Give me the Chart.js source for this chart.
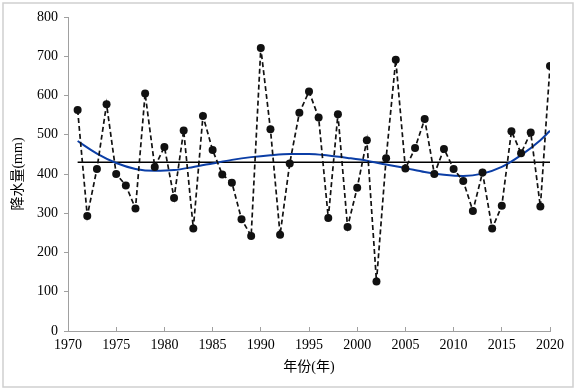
<!DOCTYPE html>
<html>
<head>
<meta charset="utf-8">
<script src="https://cdn.jsdelivr.net/npm/chart.js@4.4.1/dist/chart.umd.min.js"></script>
<style>
	html, body { margin: 0; padding: 0; background: #fff; }
	#wrap { width: 578px; height: 391px; }
</style>
</head>
<body>
<div id="wrap"><canvas id="c" width="578" height="391"></canvas></div>
<script>
// annual precipitation 1971-2020
var years = [
	1971, 1972, 1973, 1974, 1975, 1976, 1977, 1978, 1979, 1980,
	1981, 1982, 1983, 1984, 1985, 1986, 1987, 1988, 1989, 1990,
	1991, 1992, 1993, 1994, 1995, 1996, 1997, 1998, 1999, 2000,
	2001, 2002, 2003, 2004, 2005, 2006, 2007, 2008, 2009, 2010,
	2011, 2012, 2013, 2014, 2015, 2016, 2017, 2018, 2019, 2020
];
var precip = [
	563, 293, 413, 578, 400, 371, 312, 605, 418, 469,
	339, 511, 261, 548, 461, 399, 378, 285, 242, 721,
	514, 245, 427, 556, 610, 544, 288, 552, 265, 365,
	486, 126, 440, 691, 414, 466, 540, 400, 464, 413,
	382, 306, 404, 261, 319, 509, 453, 506, 317, 675
];
// multi-year mean (horizontal line)
var meanYears = [1971, 2020];
var meanValue = 430;
// polynomial trend curve, sampled from the figure
var trendYears = [1971, 1973, 1975, 1977, 1979, 1981, 1983, 1985, 1987, 1989, 1991, 1993, 1995,
	1997, 1999, 2001, 2003, 2005, 2007, 2009, 2011, 2013, 2015, 2017, 2019, 2020];
var trendValues = [484, 452, 428, 413, 408, 410, 418, 427, 436, 443, 448, 451, 451,
	447, 441, 434, 424, 415, 405, 398, 395, 401, 418, 448, 486, 510];
var yTicks = [0, 100, 200, 300, 400, 500, 600, 700, 800];

function pts( xs, ys ) {
	return xs.map( function ( x, i ) { return { x: x, y: ys[ i ] }; } );
}

var tickFont = { family: '"Liberation Serif", "Times New Roman", serif', size: 14 };
var titleFont = { family: '"Liberation Serif", "Noto Sans CJK SC", serif', size: 14 };
var axisGrey = '#a0a0a0';

// light grey frame around the whole figure
var frame = {
	id: 'frame',
	beforeDraw: function ( chart ) {
		var ctx = chart.ctx;
		ctx.save();
		ctx.fillStyle = '#fff';
		ctx.fillRect( 0, 0, chart.width, chart.height );
		ctx.strokeStyle = '#cfcfcf';
		ctx.lineWidth = 1.5;
		ctx.strokeRect( 3, 3, 570, 384 );
		ctx.restore();
	}
};

new Chart( document.getElementById( 'c' ), {
	type: 'line',
	data: {
		datasets: [ {
			label: '降水量',
			data: pts( years, precip ),
			borderColor: '#111',
			borderWidth: 1.7,
			borderDash: [ 5, 3 ],
			pointRadius: 4,
			pointBackgroundColor: '#111',
			pointBorderColor: '#111',
			pointBorderWidth: 0,
			tension: 0,
			order: 1
		}, {
			label: '平均值',
			data: pts( meanYears, [ meanValue, meanValue ] ),
			borderColor: '#000',
			borderWidth: 1.5,
			pointRadius: 0,
			order: 3
		}, {
			label: '趋势',
			data: pts( trendYears, trendValues ),
			borderColor: '#0b3ea6',
			borderWidth: 2,
			pointRadius: 0,
			cubicInterpolationMode: 'monotone',
			order: 2
		} ]
	},
	options: {
		responsive: false,
		animation: false,
		layout: { padding: { top: 17, right: 28, bottom: 0, left: 0 } },
		plugins: {
			legend: { display: false },
			tooltip: { enabled: false }
		},
		scales: {
			x: {
				type: 'linear',
				min: 1970,
				max: 2020,
				afterFit: function ( scale ) { scale.height = 60; },
				border: { color: axisGrey, width: 1 },
				grid: { drawOnChartArea: false, tickLength: -4, color: axisGrey },
				ticks: {
					stepSize: 5,
					padding: 10,
					color: '#000',
					font: tickFont,
					maxRotation: 0,
					callback: function ( v ) { return String( v ); }
				},
				title: {
					display: true,
					text: '年份(年)',
					color: '#000',
					font: titleFont,
					padding: { top: 6, bottom: 15 }
				}
			},
			y: {
				min: 0,
				max: 800,
				afterFit: function ( scale ) { scale.width = 68; },
				afterBuildTicks: function ( scale ) {
					scale.ticks = yTicks.map( function ( v ) { return { value: v }; } );
				},
				border: { color: axisGrey, width: 1 },
				grid: { drawOnChartArea: false, tickLength: 4, color: axisGrey },
				ticks: { padding: 6, color: '#000', font: tickFont },
				title: {
					display: true,
					text: '降水量(mm)',
					color: '#000',
					font: titleFont,
					padding: { top: 10, bottom: 0 }
				}
			}
		}
	},
	plugins: [ frame ]
} );
</script>
</body>
</html>
